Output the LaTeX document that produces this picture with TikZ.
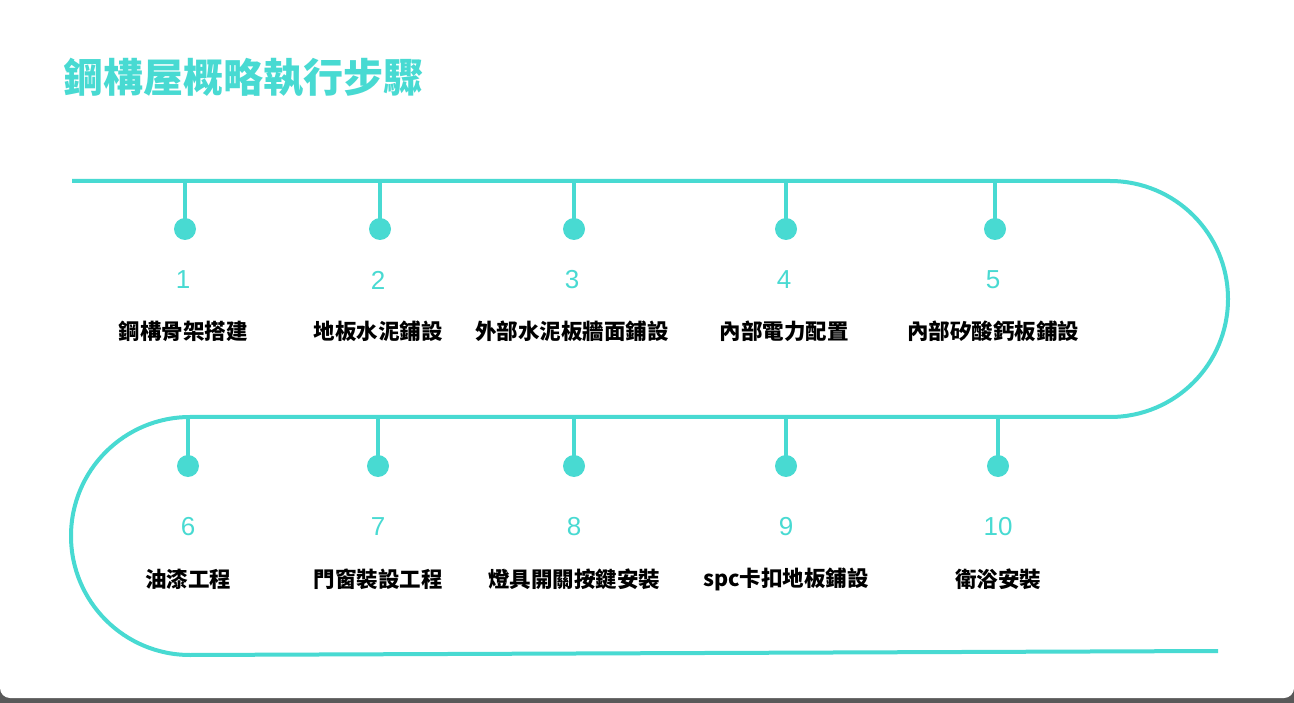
\documentclass[tikz,border=0pt]{standalone}
\usepackage{fontspec}
\setmainfont{Noto Sans CJK TC}
\newfontfamily\numf{Liberation Sans}
\definecolor{tq}{RGB}{72,218,210}
\begin{document}
\begin{tikzpicture}[x=1pt,y=-1pt,
  road/.style={draw=tq,line width=4pt},
  stem/.style={draw=tq,line width=4pt},
  dot/.style={circle,fill=tq,minimum size=22pt,inner sep=0pt},
  num/.style={text=tq,font=\numf\fontsize{26}{26}\selectfont},
  lab/.style={font=\bfseries\fontsize{21.5}{22}\selectfont}]
\useasboundingbox (0,0) rectangle (1294,703);
\fill[black!65] (0,0) rectangle (1294,703);
\begin{scope}
\clip (0,0) rectangle (1294,703);
\fill[white,rounded corners=10pt] (0,-20) rectangle (1294,698);
\end{scope}
\node[anchor=west,text=tq,font=\bfseries\fontsize{40}{40}\selectfont] (title) at (60,78) {鋼構屋概略執行步驟};
\draw[road] (72,181) -- (1110,181) arc[start angle=90,end angle=-90,radius=118pt] -- (190,417) arc[start angle=90,end angle=270,radius=119pt] -- (1218,651);
\foreach \i/\x/\t in {1/185/鋼構骨架搭建,2/380/地板水泥鋪設,3/574/外部水泥板牆面鋪設,4/786/內部電力配置,5/995/內部矽酸鈣板鋪設}{
  \coordinate (s\i) at (\x,181);
  \node[dot] (d\i) at (\x,229) {};
  \draw[stem] (s\i) -- (d\i.center);
  \node[num] (n\i) at (\x-2,280) {\i};
  \node[lab] (l\i) at (\x-2,331) {\t};
}
\foreach \i/\x/\t in {6/188/油漆工程,7/378/門窗裝設工程,8/574/燈具開關按鍵安裝,9/786/spc卡扣地板鋪設,10/998/衛浴安裝}{
  \coordinate (s\i) at (\x,417);
  \node[dot] (d\i) at (\x,466) {};
  \draw[stem] (s\i) -- (d\i.center);
  \node[num] (n\i) at (\x,527) {\i};
  \node[lab] (l\i) at (\x,579) {\t};
}
\end{tikzpicture}
\end{document}
